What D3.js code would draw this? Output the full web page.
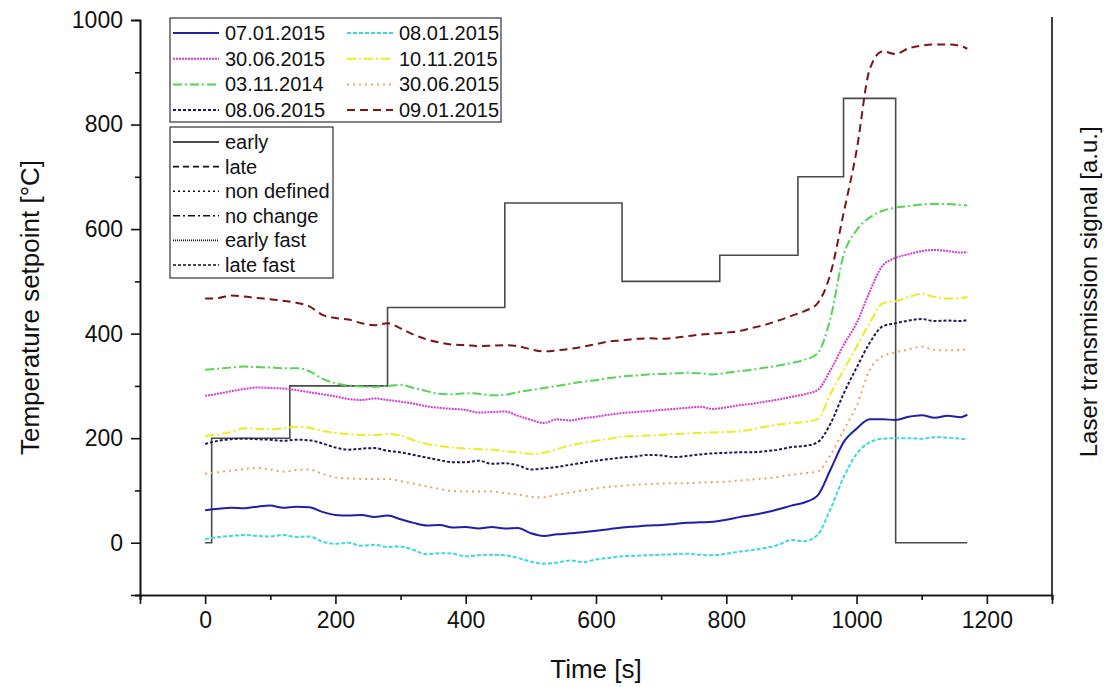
<!DOCTYPE html>
<html>
<head>
<meta charset="utf-8">
<script src="https://cdn.jsdelivr.net/npm/d3@7"></script>
<style>
body { margin:0; background:#fff; }
svg { font-family:"Liberation Sans", Arial, sans-serif; }
</style>
</head>
<body>
<svg></svg>
<script>
var screen = {width:1107,height:687}
var margins = {top:20,right:55,left:140,bottom:92}

// time grid of the laser signals [s]
var times = [0,20,40,60,80,100,120,140,160,180,200,220,240,260,280,300,320,340,360,380,400,420,440,460,480,500,520,540,560,580,600,620,640,660,680,700,720,740,760,780,800,820,840,860,880,900,920,940,960,980,1000,1020,1040,1060,1080,1100,1120,1140,1160,1170]

var s07012015 = [62,65,67,66,69,71,67,69,68,59,53,52,53,49,52,45,38,33,34,29,30,27,30,27,28,18,13,16,18,20,23,26,29,31,33,34,36,38,39,40,44,49,53,58,64,71,77,90,140,192,218,236,236,235,241,244,239,243,240,245]
var s08012015 = [7,11,13,15,13,12,15,11,12,2,-2,0,-6,-4,-8,-7,-14,-22,-20,-21,-26,-24,-23,-24,-29,-36,-40,-38,-34,-37,-32,-29,-26,-25,-24,-23,-22,-21,-23,-24,-21,-17,-14,-10,-4,5,3,15,65,125,170,192,199,200,200,199,202,201,199,198]
var s30062015a = [281,285,290,294,297,296,295,292,288,284,280,275,273,276,273,270,266,261,258,256,254,249,250,251,243,235,229,236,234,238,241,245,248,250,252,254,256,258,260,256,259,263,266,270,274,279,284,292,330,378,420,480,530,545,552,558,560,558,555,556]
var s10112015 = [204,207,212,219,218,217,219,222,220,214,210,208,206,206,208,205,196,189,185,182,180,179,178,175,173,170,172,179,186,191,195,199,203,204,205,206,208,209,210,211,212,213,217,222,226,229,231,236,285,330,375,420,458,462,470,476,470,467,468,470]
var s03112014 = [331,333,335,337,336,335,334,334,328,314,305,301,299,298,300,302,296,290,285,284,286,285,282,283,288,292,296,300,304,308,311,315,318,320,322,323,324,325,324,322,325,328,331,335,339,344,350,362,430,550,598,622,635,641,644,647,648,648,646,645]
var s30062015b = [132,135,138,141,143,140,136,139,140,132,125,123,122,122,122,118,113,108,103,99,98,98,98,95,92,88,87,92,96,100,104,107,109,111,112,113,114,114,115,116,117,119,121,123,126,130,133,136,168,215,262,330,357,364,370,375,369,368,369,370]
var s08062015 = [189,195,198,199,198,197,195,197,196,190,182,178,180,181,176,173,168,163,158,154,154,157,151,152,148,140,142,145,149,153,157,160,163,165,168,167,164,166,169,171,172,173,173,175,178,183,185,192,228,285,335,382,414,420,425,428,424,425,424,426]
var s09012015 = [467,468,473,471,468,466,463,459,452,436,430,427,420,416,420,410,398,389,383,379,378,376,377,378,376,370,366,368,371,375,380,385,387,390,391,390,392,395,398,400,402,405,411,417,425,434,443,458,515,630,750,905,940,935,946,951,953,953,950,945]

var seriesNames = ["07.01.2015","08.01.2015","30.06.2015","10.11.2015","03.11.2014","30.06.2015","08.06.2015","09.01.2015"]
var seriesValues = [s07012015,s08012015,s30062015a,s10112015,s03112014,s30062015b,s08062015,s09012015]
var seriesColors = ["#1f1fa8","#3fd6e2","#d03cd0","#ecec1e","#55d455","#e8a462","#1c1c52","#7a1616"]
var seriesDash = ["none","4,2","2,1","9,3,2,3","9,3,2,3","2,4","3,2","8,5"]

// temperature setpoint steps
var stepTimes = [0,10,130,280,460,640,790,910,980,1060,1170]
var stepValues = [0,200,300,450,650,500,550,700,850,0,0]

var styleNames = ["early","late","non defined","no change","early fast","late fast"]
var styleDash = ["none","6,4","2,3","7,3,2,3","1,1","3,2"]

var xTicks = [0,200,400,600,800,1000,1200]
var yTicks = [0,200,400,600,800,1000]

var setup = function()
{
    var svg = d3.select("svg")
      .attr("width",screen.width)
      .attr("height",screen.height)

    var width = screen.width - margins.left - margins.right;
    var height = screen.height - margins.top - margins.bottom;

    var xScale = d3.scaleLinear()
                   .domain([-100,1300])
                   .range([margins.left,margins.left+width])
    var yScale = d3.scaleLinear()
                   .domain([-100,1000])
                   .range([margins.top+height,margins.top])

    // minor ticks first, then major ticks with labels
    svg.append("g")
       .attr("transform","translate(0,"+(margins.top+height)+")")
       .call(d3.axisBottom(xScale).tickValues(d3.range(-100,1301,200)).tickSize(5).tickFormat(""))
    var xAxis = svg.append("g")
       .attr("transform","translate(0,"+(margins.top+height)+")")
       .call(d3.axisBottom(xScale).tickValues(xTicks).tickSize(9).tickPadding(8).tickFormat(d3.format("d")))
    xAxis.selectAll("text").attr("font-size",23).attr("fill","#111")

    svg.append("g")
       .attr("transform","translate("+margins.left+",0)")
       .call(d3.axisLeft(yScale).tickValues(d3.range(-100,1001,200)).tickSize(5).tickFormat(""))
    var yAxis = svg.append("g")
       .attr("transform","translate("+margins.left+",0)")
       .call(d3.axisLeft(yScale).tickValues(yTicks).tickSize(9).tickPadding(8).tickFormat(d3.format("d")))
    yAxis.selectAll("text").attr("font-size",23).attr("fill","#111")

    svg.selectAll(".domain").attr("stroke","#111").attr("stroke-width",1.6)
    svg.selectAll(".tick line").attr("stroke","#111").attr("stroke-width",1.6)

    // right axis without ticks
    svg.append("line")
       .attr("x1",margins.left+width).attr("x2",margins.left+width)
       .attr("y1",margins.top-3).attr("y2",margins.top+height)
       .attr("stroke","#111").attr("stroke-width",1.6)

    // axis titles
    svg.append("text")
       .attr("x",xScale(600)).attr("y",678)
       .attr("text-anchor","middle").attr("font-size",26).attr("fill","#111")
       .text("Time [s]")
    svg.append("text")
       .attr("transform","translate(39,"+yScale(450)+") rotate(-90)")
       .attr("text-anchor","middle").attr("font-size",26).attr("fill","#111")
       .text("Temperature setpoint [°C]")
    svg.append("text")
       .attr("transform","translate(1097,"+yScale(480)+") rotate(-90)")
       .attr("text-anchor","middle").attr("font-size",24).attr("fill","#111")
       .text("Laser transmission signal [a.u.]")

    drawGraph(svg, xScale, yScale)
    drawLegends(svg)
}

var drawGraph = function(svg, xScale, yScale)
{
    var stepLine = d3.line()
                     .x(function(d,i){return xScale(stepTimes[i])})
                     .y(function(d){return yScale(d)})
                     .curve(d3.curveStepAfter)
    svg.append("path")
       .datum(stepValues)
       .attr("d",stepLine)
       .attr("fill","none")
       .attr("stroke","#4a4a4a")
       .attr("stroke-width",1.6)

    var lineGenerator = d3.line()
                          .x(function(d,i){return xScale(times[i])})
                          .y(function(d){return yScale(d)})
                          .curve(d3.curveMonotoneX)
    svg.append("g")
       .selectAll("path")
       .data(seriesValues)
       .enter()
       .append("path")
       .attr("d",lineGenerator)
       .attr("fill","none")
       .attr("stroke",function(d,i){return seriesColors[i]})
       .attr("stroke-dasharray",function(d,i){return seriesDash[i]})
       .attr("stroke-width",2)
}

var drawLegends = function(svg)
{
    var box1 = svg.append("g").attr("transform","translate(170,18)")
    box1.append("rect")
        .attr("width",331).attr("height",104)
        .attr("fill","#fff").attr("stroke","#333").attr("stroke-width",1.2)
    var items = box1.selectAll("g")
        .data(seriesNames)
        .enter()
        .append("g")
        .attr("transform",function(d,i){return "translate("+(i%2==0?3:177)+","+(15+25.7*Math.floor(i/2))+")"})
    items.append("line")
        .attr("x1",0).attr("x2",46)
        .attr("stroke",function(d,i){return seriesColors[i]})
        .attr("stroke-dasharray",function(d,i){return seriesDash[i]})
        .attr("stroke-width",2)
    items.append("text")
        .attr("x",52).attr("y",7)
        .attr("font-size",20).attr("fill","#111")
        .text(function(d){return d})

    var box2 = svg.append("g").attr("transform","translate(170,127)")
    box2.append("rect")
        .attr("width",163).attr("height",151)
        .attr("fill","#fff").attr("stroke","#333").attr("stroke-width",1.2)
    var rows = box2.selectAll("g")
        .data(styleNames)
        .enter()
        .append("g")
        .attr("transform",function(d,i){return "translate(3,"+(15+24.6*i)+")"})
    rows.append("line")
        .attr("x1",0).attr("x2",46)
        .attr("stroke","#111")
        .attr("stroke-dasharray",function(d,i){return styleDash[i]})
        .attr("stroke-width",1.6)
    rows.append("text")
        .attr("x",52).attr("y",7)
        .attr("font-size",20).attr("fill","#111")
        .text(function(d){return d})
}

setup()
</script>
</body>
</html>
